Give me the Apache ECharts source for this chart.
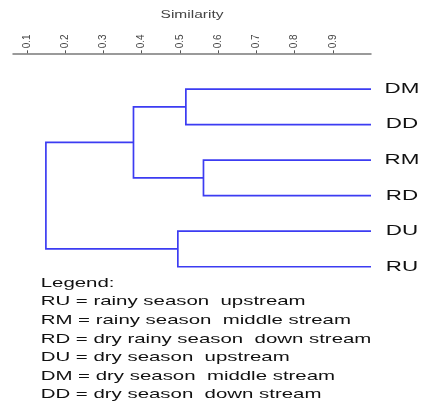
<!DOCTYPE html>
<html><head><meta charset="utf-8">
<script src="https://cdn.jsdelivr.net/npm/echarts@6/dist/echarts.min.js"></script>
<style>html,body{margin:0;padding:0;background:#fff}#c{width:422px;height:401px}</style>
</head><body><div id="c"></div>
<script>
// Leaves (top to bottom)
const leaves = ['DM', 'DD', 'RM', 'RD', 'DU', 'RU'];
// Merges: [childA, childB, similarity]; children are leaf names or merge ids "m0".."m4"
const merges = [
  ['DM', 'DD', 0.516],
  ['RM', 'RD', 0.562],
  ['DU', 'RU', 0.495],
  ['m0', 'm1', 0.379],
  ['m3', 'm2', 0.150]
];
const tickValues = [0.1, 0.2, 0.3, 0.4, 0.5, 0.6, 0.7, 0.8, 0.9];
const legendLines = [
  'Legend:',
  'RU = rainy season  upstream',
  'RM = rainy season  middle stream',
  'RD = dry rainy season  down stream',
  'DU = dry season  upstream',
  'DM = dry season  middle stream',
  'DD = dry season  down stream'
];
const axisTitle = 'Similarity';
const leafSim = 1.0;

// Build node positions from the data
const nodes = {};
leaves.forEach((l, i) => { nodes[l] = { x: leafSim, y: i }; });
const segs = [];
merges.forEach((m, i) => {
  const a = nodes[m[0]], b = nodes[m[1]];
  const h = m[2];
  segs.push({ coords: [[a.x, a.y], [h, a.y], [h, b.y], [b.x, b.y]] });
  nodes['m' + i] = { x: h, y: (a.y + b.y) / 2 };
});

const FONT = 'Liberation Sans';
const chart = echarts.init(document.getElementById('c'));
chart.setOption({
  animation: false,
  grid: { left: 13, right: 51, top: 53.3, height: 231.2 },
  xAxis: {
    type: 'value', position: 'top',
    min: 0.064, max: 1.0,
    splitLine: { show: false },
    axisLine: { show: true, onZero: false, lineStyle: { color: '#7a7a7a', width: 1.5 } },
    axisTick: { show: true, customValues: tickValues, length: 3, lineStyle: { color: '#555' } },
    axisLabel: { customValues: tickValues, rotate: -90, fontSize: 10, color: '#444', margin: 5,
      fontFamily: FONT, formatter: v => v.toFixed(1) }
  },
  yAxis: {
    type: 'value', inverse: true, min: -1.007, max: 5.5, show: false
  },
  series: [{
    type: 'lines', coordinateSystem: 'cartesian2d', polyline: true,
    lineStyle: { color: '#3c3cf2', width: 1.7, opacity: 1 },
    data: segs
  }]
});

// Text placed via graphic (stretched horizontally as in the reference)
const leafX = chart.convertToPixel({ xAxisIndex: 0 }, leafSim);
const graphics = [];
leaves.forEach((l, i) => {
  const py = chart.convertToPixel({ yAxisIndex: 0 }, i);
  graphics.push({
    type: 'text', x: leafX + 31, y: py, scaleX: 1.6,
    style: { text: l, fontSize: 14, fontFamily: FONT, fill: '#111', textAlign: 'center', textVerticalAlign: 'middle' }
  });
});
graphics.push({
  type: 'text', x: 192, y: 15, scaleX: 1.55,
  style: { text: axisTitle, fontSize: 10, fontFamily: FONT, fill: '#444', textAlign: 'center', textVerticalAlign: 'middle' }
});
legendLines.forEach((t, i) => {
  graphics.push({
    type: 'text', x: 40.7, y: 283.3 + i * 18.6, scaleX: 1.57,
    style: { text: t, fontSize: 13, fontFamily: FONT, fill: '#111', textAlign: 'left', textVerticalAlign: 'middle' }
  });
});
chart.setOption({ graphic: graphics });
</script></body></html>
